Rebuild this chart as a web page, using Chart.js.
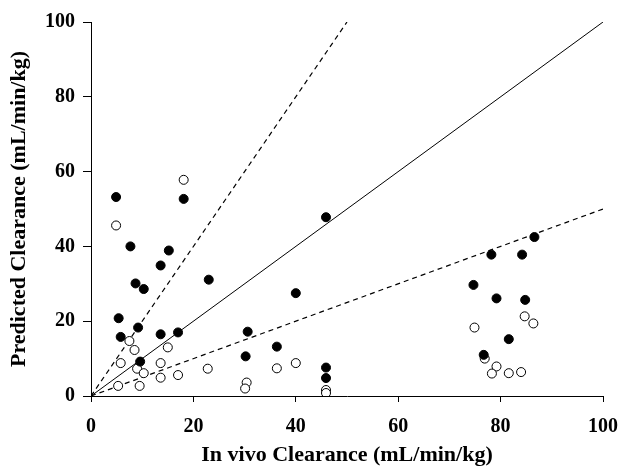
<!DOCTYPE html>
<html>
<head>
<meta charset="utf-8">
<script src="https://cdn.jsdelivr.net/npm/chart.js@4/dist/chart.umd.min.js"></script>
<style>
html,body{margin:0;padding:0;background:#fff;}
#wrap{width:621px;height:466px;}
</style>
</head>
<body>
<div id="wrap"><canvas id="c" width="621" height="466"></canvas></div>
<script>
// In vivo clearance (x) vs predicted clearance (y), mL/min/kg
const filledX = [4.9, 18.1, 7.7, 15.2, 13.6, 8.7, 10.3, 23.0, 5.4, 5.8, 9.2, 13.6, 17.0, 9.6,
                 45.9, 40.0, 30.6, 30.2, 36.3, 45.9, 45.9,
                 86.6, 78.2, 84.2, 74.7, 79.2, 84.8, 81.6, 76.7];
const filledY = [53.2, 52.7, 40.0, 38.9, 34.9, 30.1, 28.6, 31.1, 20.8, 15.8, 18.3, 16.5, 17.0, 9.2,
                 47.8, 27.5, 17.2, 10.6, 13.2, 7.6, 4.8,
                 42.5, 37.8, 37.8, 29.7, 26.1, 25.7, 15.2, 11.0];
const openX = [18.1, 4.9, 7.5, 8.5, 15.0, 5.8, 9.0, 10.3, 13.6, 13.6, 17.0, 22.8, 5.3, 9.5,
               36.3, 40.0, 30.4, 30.1, 45.9, 45.9,
               84.7, 86.4, 74.9, 76.9, 79.2, 78.3, 81.6, 84.0];
const openY = [57.8, 45.6, 14.7, 12.3, 13.0, 8.8, 7.3, 6.1, 8.8, 4.9, 5.6, 7.3, 2.7, 2.7,
               7.4, 8.8, 3.6, 2.0, 1.6, 0.8,
               21.3, 19.4, 18.3, 10.0, 7.9, 6.0, 6.1, 6.4];
// reference lines: unity, 2-fold over, 2-fold under
const unityLine = [[0, 0], [100, 100]];
const upperLine = [[0, 0], [50, 100]];
const lowerLine = [[0, 0], [100, 50]];
const xTicks = [0, 20, 40, 60, 80, 100];
const yTicks = [0, 20, 40, 60, 80, 100];

const toPts = (xs, ys) => xs.map((x, i) => ({x: x, y: ys[i]}));
const linePts = arr => arr.map(p => ({x: p[0], y: p[1]}));
const fam = '"Liberation Serif", "Times New Roman", serif';
const tickFont = {family: fam, weight: 'bold', size: 20};
const titleFont = {family: fam, weight: 'bold', size: 22};
const xTitleFont = {family: fam, weight: 'bold', size: 22, lineHeight: 1.0};

new Chart(document.getElementById('c'), {
  type: 'scatter',
  data: {
    datasets: [
      {type: 'line', data: linePts(unityLine), borderColor: '#000', borderWidth: 1, pointRadius: 0, fill: false, order: 3},
      {type: 'line', data: linePts(upperLine), borderColor: '#000', borderWidth: 1.2, borderDash: [5, 4], pointRadius: 0, fill: false, order: 3},
      {type: 'line', data: linePts(lowerLine), borderColor: '#000', borderWidth: 1.2, borderDash: [5, 4], pointRadius: 0, fill: false, order: 3},
      {data: toPts(openX, openY), pointStyle: 'circle', pointRadius: 4.5, backgroundColor: '#fff', borderColor: '#000', borderWidth: 1, order: 2},
      {data: toPts(filledX, filledY), pointStyle: 'circle', pointRadius: 4.5, backgroundColor: '#000', borderColor: '#000', borderWidth: 1, order: 1}
    ]
  },
  options: {
    responsive: false,
    animation: false,
    layout: {padding: {left: 0, right: 18, top: 22, bottom: 0}},
    plugins: {legend: {display: false}, tooltip: {enabled: false}},
    scales: {
      x: {
        type: 'linear', min: 0, max: 100,
        afterBuildTicks: s => { s.ticks = xTicks.map(v => ({value: v})); },
        afterFit: s => { s.height = 70; s.paddingLeft = 0; s.paddingRight = 0; },
        grid: {drawOnChartArea: false, color: '#000', tickLength: 6, tickColor: '#000'},
        border: {color: '#000', width: 1},
        ticks: {color: '#000', font: tickFont, padding: 13, maxRotation: 0},
        title: {display: true, text: 'In vivo Clearance (mL/min/kg)', color: '#000', font: xTitleFont, padding: {top: 0, bottom: 0}}
      },
      y: {
        type: 'linear', min: 0, max: 100,
        afterBuildTicks: s => { s.ticks = yTicks.map(v => ({value: v})); },
        afterFit: s => { s.width = 91; s.paddingTop = 0; s.paddingBottom = 0; },
        grid: {drawOnChartArea: false, color: '#000', tickLength: 8, tickColor: '#000'},
        border: {color: '#000', width: 1},
        ticks: {color: '#000', font: tickFont, padding: 8},
        title: {display: true, text: 'Predicted Clearance (mL/min/kg)', color: '#000', font: titleFont, padding: {top: 6, bottom: 0}}
      }
    }
  }
});
</script>
</body>
</html>
